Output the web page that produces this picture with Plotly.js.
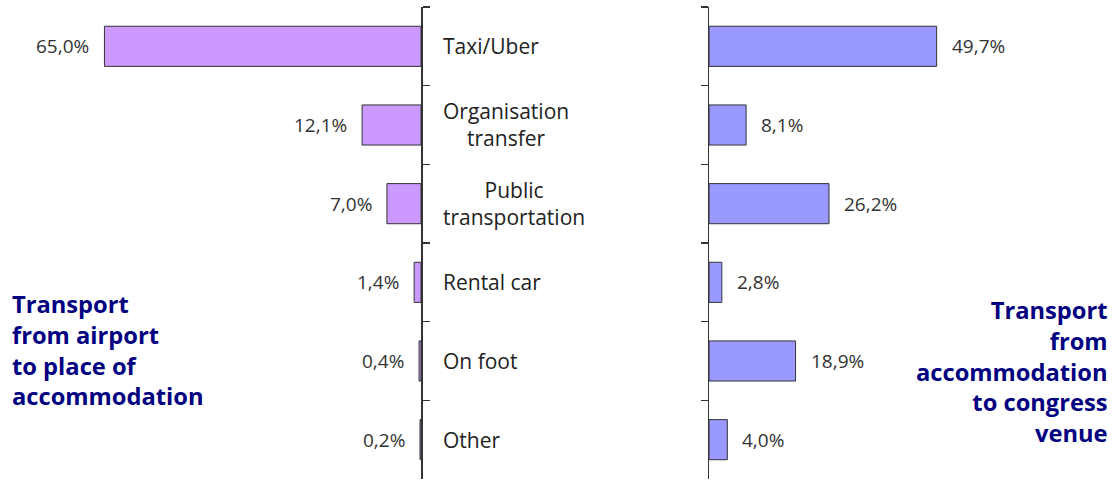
<!DOCTYPE html>
<html>
<head>
<meta charset="utf-8">
<script src="https://cdn.plot.ly/plotly-3.0.1.min.js"></script>
<style>
  html, body { margin: 0; padding: 0; background: #fff; }
  #chart { width: 1115px; height: 481px; }
</style>
</head>
<body>
<div id="chart"></div>
<script>
// categories, top to bottom
const categories = ['Taxi/Uber', 'Organisation transfer', 'Public transportation', 'Rental car', 'On foot', 'Other'];
const categoryLabels = ['Taxi/Uber', 'Organisation<br>transfer', 'Public<br>transportation', 'Rental car', 'On foot', 'Other'];

// % of respondents
const airportShares = [65.0, 12.1, 7.0, 1.4, 0.4, 0.2];
const venueShares = [49.7, 8.1, 26.2, 2.8, 18.9, 4.0];

const leftTitle = 'Transport<br>from airport<br>to place of<br>accommodation';
const rightTitle = 'Transport<br>from<br>accommodation<br>to congress<br>venue';

const W = 1115, H = 481;
const px = v => v / W;
const py = v => (H - v) / H;

function fmt(v) {
    return v.toFixed(1).replace('.', ',') + '%';
}

const barLine = { color: '#333333', width: 1 };

const traces = [
    {
        type: 'bar',
        orientation: 'h',
        y: categories,
        x: airportShares,
        xaxis: 'x',
        yaxis: 'y',
        marker: { color: '#cc99ff', line: barLine },
        hoverinfo: 'x+y'
    },
    {
        type: 'bar',
        orientation: 'h',
        y: categories,
        x: venueShares,
        xaxis: 'x2',
        yaxis: 'y2',
        marker: { color: '#9999ff', line: barLine },
        hoverinfo: 'x+y'
    }
];

const annotations = [];
const valueFont = { family: 'Open Sans, sans-serif', size: 19, color: '#333333' };

airportShares.forEach((v, i) => {
    annotations.push({
        xref: 'x', yref: 'y', x: v, y: categories[i],
        text: fmt(v), showarrow: false,
        xanchor: 'right', yanchor: 'middle', xshift: -13,
        font: valueFont
    });
});

venueShares.forEach((v, i) => {
    annotations.push({
        xref: 'x2', yref: 'y2', x: v, y: categories[i],
        text: fmt(v), showarrow: false,
        xanchor: 'left', yanchor: 'middle', xshift: 13,
        font: valueFont
    });
});

categoryLabels.forEach((lab, i) => {
    annotations.push({
        xref: 'paper', yref: 'y', x: px(441), y: categories[i],
        text: lab, showarrow: false,
        xanchor: 'left', yanchor: 'middle', align: 'center',
        font: { family: 'Open Sans, sans-serif', size: 21, color: '#222222' }
    });
});

const titleFont = { family: 'Open Sans, sans-serif', size: 23.7, color: '#000080', weight: 'bold' };

annotations.push({
    xref: 'paper', yref: 'paper', x: px(10), y: py(286),
    text: '<b>' + leftTitle + '</b>', showarrow: false,
    xanchor: 'left', yanchor: 'top', align: 'left',
    font: titleFont
});

annotations.push({
    xref: 'paper', yref: 'paper', x: px(1110), y: py(292),
    text: '<b>' + rightTitle + '</b>', showarrow: false,
    xanchor: 'right', yanchor: 'top', align: 'right',
    font: titleFont
});

const catAxis = {
    type: 'category',
    autorange: 'reversed',
    showline: true,
    linecolor: '#333333',
    linewidth: 1.5,
    ticks: 'outside',
    tickson: 'boundaries',
    ticklen: 7,
    tickcolor: '#333333',
    tickwidth: 1.5,
    showticklabels: false,
    showgrid: false,
    zeroline: false,
    domain: [py(479), py(7)],
    fixedrange: true
};

const layout = {
    width: W,
    height: H,
    margin: { l: 0, r: 0, t: 0, b: 0 },
    paper_bgcolor: '#ffffff',
    plot_bgcolor: '#ffffff',
    showlegend: false,
    bargap: 0.49,
    xaxis: {
        domain: [0, px(421)],
        range: [421 / 4.87, 0],
        visible: false,
        fixedrange: true
    },
    xaxis2: {
        domain: [px(709), 1],
        range: [0, 406 / 4.58],
        visible: false,
        fixedrange: true
    },
    yaxis: Object.assign({}, catAxis, { anchor: 'x', side: 'right' }),
    yaxis2: Object.assign({}, catAxis, { anchor: 'x2', side: 'left' }),
    annotations: annotations
};

Plotly.newPlot('chart', traces, layout, { displayModeBar: false, staticPlot: true });
</script>
</body>
</html>
